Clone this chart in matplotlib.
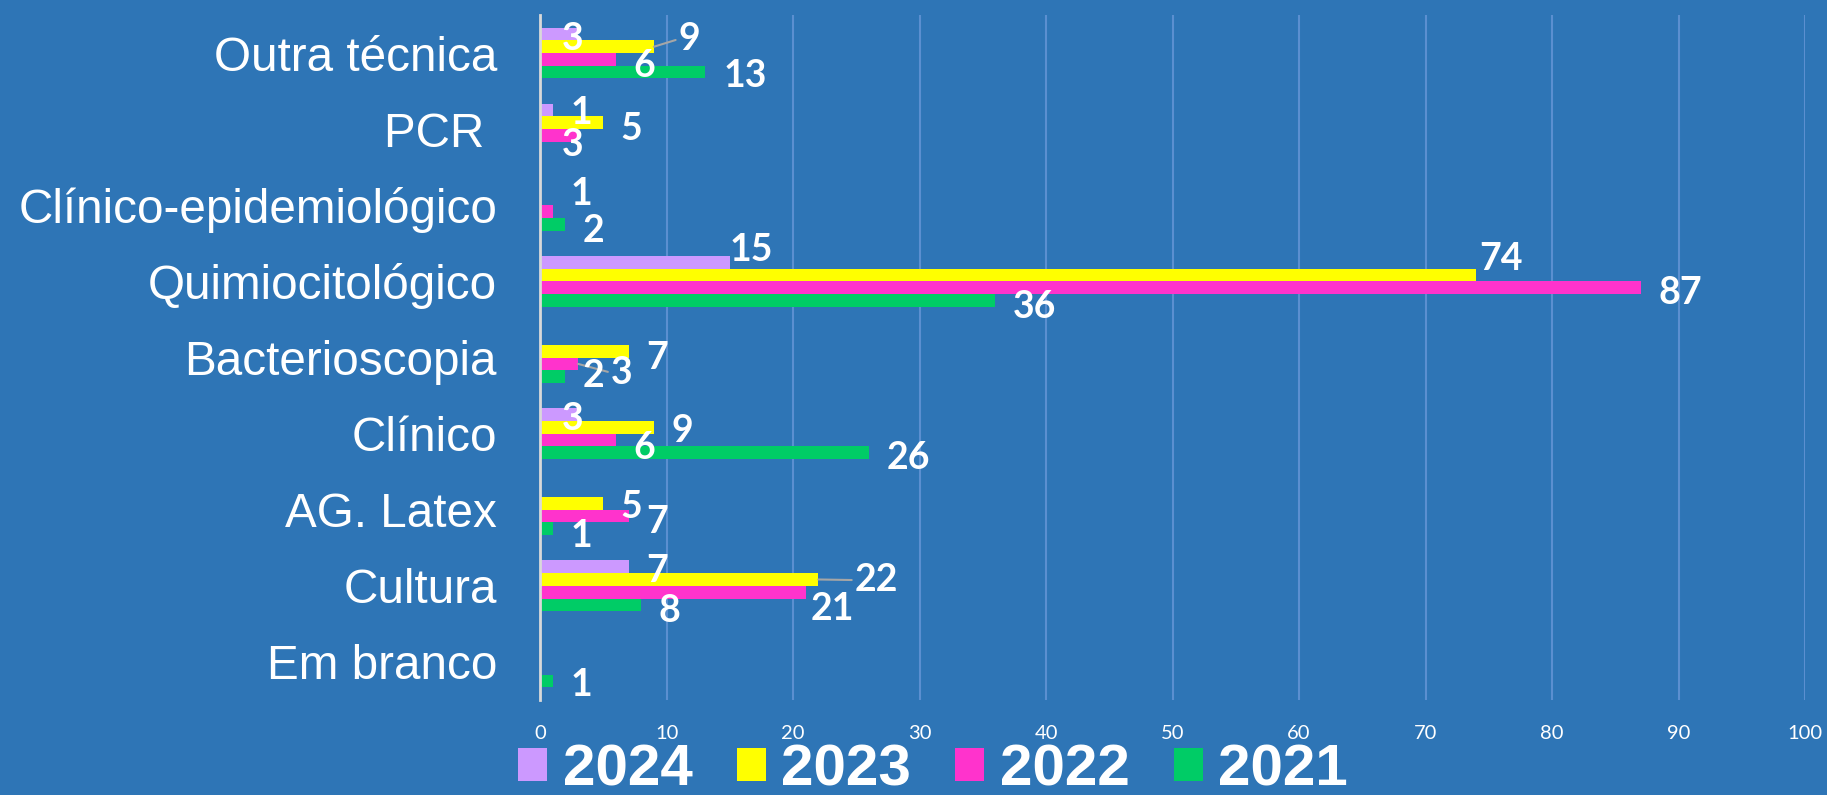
import matplotlib
matplotlib.use("Agg")
import matplotlib.pyplot as plt
import numpy as np
from matplotlib.patches import Patch

# ---------------- data ----------------
categories = ["Outra técnica", "PCR ", "Clínico-epidemiológico", "Quimiocitológico",
              "Bacterioscopia", "Clínico", "AG. Latex", "Cultura", "Em branco"]
years = ["2024", "2023", "2022", "2021"]
v2024 = [3, 1, 0, 15, 0, 3, 0, 7, 0]
v2023 = [9, 5, 0, 74, 7, 9, 5, 22, 0]
v2022 = [6, 3, 1, 87, 3, 6, 7, 21, 0]
v2021 = [13, 0, 2, 36, 2, 26, 1, 8, 1]
x_ticks = list(range(0, 101, 10))

# ---------------- styles ----------------
BG = "#2E75B6"
colors = ["#CC99FF", "#FFFF00", "#FF33CC", "#00CC66"]
GRID = "#5B8FD0"

# label displacement (dx, dy) in reference px, (category, series) -> offset; leader flag
S = 0.839  # ref px -> points
DY0 = 2.5
label_adj = {
    (0, 0): (-29, 2, False), (0, 1): (6, -9, True), (0, 2): (0, 3, False), (0, 3): (1, 1, False),
    (1, 0): (0, 0, False), (1, 1): (0, 3, False), (1, 2): (-29, 6, False),
    (2, 2): (0, -18, False), (2, 3): (0, 3, False),
    (3, 0): (-15, -13, False), (3, 1): (-12, -16, False), (3, 2): (0, 2, False), (3, 3): (0, 3, False),
    (4, 1): (0, 3, False), (4, 2): (13, 5, True), (4, 3): (0, -3, False),
    (5, 0): (-29, 1, False), (5, 1): (0, 1, False), (5, 2): (0, 4, False), (5, 3): (0, 2, False),
    (6, 1): (0, 1, False), (6, 2): (0, 3, False), (6, 3): (0, 4, False),
    (7, 0): (0, 1, False), (7, 1): (16, -2, True), (7, 2): (-11, 12, False), (7, 3): (0, 3, False),
    (8, 3): (0, 1, False),
}

fig = plt.figure(figsize=(18.27, 7.95), dpi=100, facecolor=BG)
ax = fig.add_axes([0.2956, 0.1195, 0.6924, 0.8616])
ax.set_facecolor(BG)

series = [v2024, v2023, v2022, v2021]
n = len(categories)
y = np.arange(n)
h = 0.167
offs = [-1.5 * h, -0.5 * h, 0.5 * h, 1.5 * h]

for si, (vals, col, yr) in enumerate(zip(series, colors, years)):
    ax.barh(y + offs[si], vals, height=h, color=col, label=yr, zorder=3)
    for ci, v in enumerate(vals):
        if v == 0:
            continue
        dx, dy, leader = label_adj.get((ci, si), (0, 0, False))
        kw = {}
        if leader:
            kw["arrowprops"] = dict(arrowstyle="-", color="#A6A6A6", lw=1.5,
                                    shrinkA=0, shrinkB=0, relpos=(0, 0.5))
        ax.annotate(str(v), xy=(v, y[ci] + offs[si]),
                    xytext=((15 + dx) * S, -(dy + DY0) * S), textcoords="offset points",
                    ha="left", va="center", color="white", fontsize=27,
                    fontweight="bold", family="Lato", zorder=5, **kw)

ax.set_xlim(0, 100)
ax.set_ylim(n - 0.5, -0.5)
ax.set_xticks(x_ticks)
ax.set_xticklabels([str(t) for t in x_ticks], family="Lato", fontsize=14.5, color="white")
ax.set_yticks(y)
ax.set_yticklabels(categories, family="Liberation Sans", fontsize=34.3, color="white")
ax.tick_params(axis="x", length=0, pad=18)
ax.tick_params(axis="y", length=0, pad=31)
ax.grid(axis="x", color=GRID, lw=1.5, zorder=0)
for sp in ["top", "right", "bottom"]:
    ax.spines[sp].set_visible(False)
ax.spines["left"].set_color("#D9D9D9")
ax.spines["left"].set_linewidth(2)
ax.spines["left"].set_zorder(4)

handles = [Patch(facecolor=c) for c in colors]
fig.legend(handles, years, loc="center", bbox_to_anchor=(0.5107, 0.031), ncol=4,
           frameon=False, prop={"family": "Liberation Sans", "weight": "bold", "size": 42},
           labelcolor="white", handlelength=0.5, handleheight=0.51, handletextpad=0.26,
           columnspacing=0.76, borderpad=0)

fig.savefig("out.png", dpi=100, facecolor=BG)
